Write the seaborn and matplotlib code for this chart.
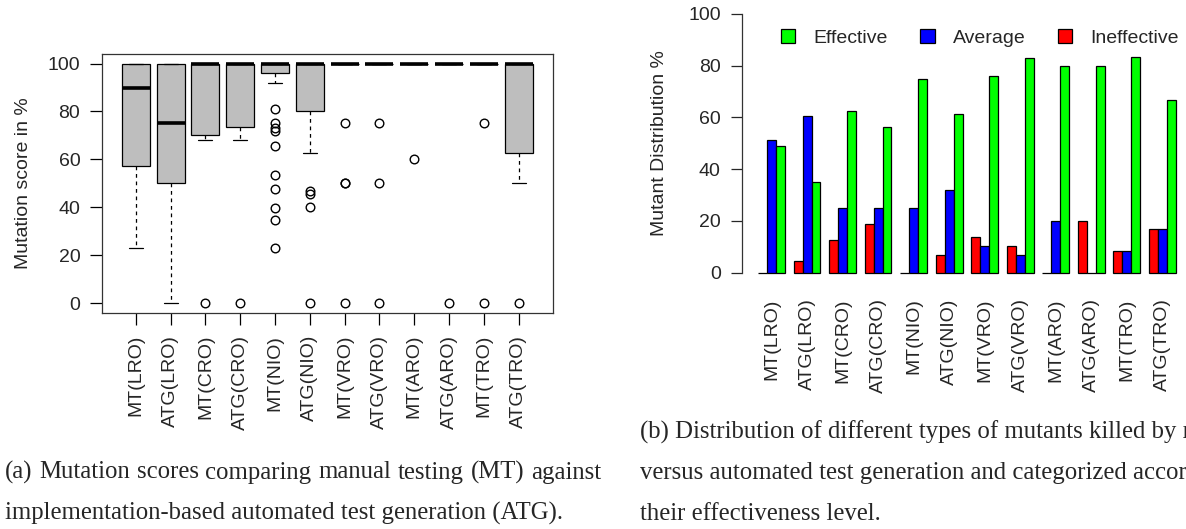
import matplotlib
matplotlib.use("Agg")
import pandas as pd
import seaborn as sns
from matplotlib import pyplot as plt
from matplotlib.patches import Patch

# ---- data -------------------------------------------------------------
labels = ["MT(LRO)", "ATG(LRO)", "MT(CRO)", "ATG(CRO)", "MT(NIO)", "ATG(NIO)",
          "MT(VRO)", "ATG(VRO)", "MT(ARO)", "ATG(ARO)", "MT(TRO)", "ATG(TRO)"]

# mutation score (%) per subject, one list per group
mt_lro = [23.1, 57.1, 90, 100, 100]
atg_lro = [0, 50, 75, 100, 100]
mt_cro = [0, 67.9, 70, 100, 100, 100, 100, 100, 100]
atg_cro = [0, 67.9, 73.7, 100, 100, 100, 100, 100, 100]
mt_nio = [23.1, 34.6, 39.6, 47.6, 53.5, 65.6, 71.8, 73.3, 75.1, 80.9, 91.9, 96] + [100] * 33
atg_nio = [0, 40, 45.5, 46.7, 62.5, 80] + [100] * 15
mt_vro = [0, 50, 50, 75] + [100] * 13
atg_vro = [0, 50, 75] + [100] * 10
mt_aro = [60, 100, 100, 100, 100]
atg_aro = [0, 100, 100, 100, 100]
mt_tro = [0, 75] + [100] * 7
atg_tro = [0, 50, 62.5, 100, 100, 100, 100, 100, 100]

scores = [mt_lro, atg_lro, mt_cro, atg_cro, mt_nio, atg_nio,
          mt_vro, atg_vro, mt_aro, atg_aro, mt_tro, atg_tro]

# mutant distribution (%) per group
ineffective = [0, 4.5, 12.5, 18.75, 0, 6.8, 13.8, 10.3, 0, 20, 8.3, 16.7]
average = [51.2, 60.6, 25, 25, 25, 31.8, 10.3, 6.9, 20, 0, 8.3, 16.7]
effective = [48.8, 34.9, 62.5, 56.25, 75, 61.4, 75.9, 82.8, 80, 80, 83.3, 66.7]

caption_a = ["(a) Mutation scores comparing manual testing (MT) against",
             "implementation-based automated test generation (ATG)."]
caption_b = ["(b) Distribution of different types of mutants killed by manual testing",
             "versus automated test generation and categorized according to",
             "their effectiveness level."]

# ---- style ------------------------------------------------------------
sns.set_style("ticks")
plt.rcParams["font.family"] = ["Liberation Sans", "DejaVu Sans"]
plt.rcParams["axes.linewidth"] = 0.9
plt.rcParams["xtick.major.width"] = 0.9
plt.rcParams["ytick.major.width"] = 0.9

W, H = 1186, 529
fig = plt.figure(figsize=(W / 100, H / 100), dpi=100)

# ---- (a) boxplot ------------------------------------------------------
box_df = pd.DataFrame({
    "group": [lab for lab, vals in zip(labels, scores) for _ in vals],
    "score": [v for vals in scores for v in vals],
})

ax1 = fig.add_axes([101.7 / W, 1 - 312.7 / H, 451 / W, 258.7 / H])
sns.boxplot(data=box_df, x="group", y="score", order=labels, ax=ax1,
            color="#BEBEBE", linecolor="black", linewidth=0.9, width=0.8,
            saturation=1, fliersize=6.2,
            whiskerprops={"linestyle": (0, (3, 3))},
            medianprops={"linewidth": 2.6},
            flierprops={"marker": "o", "markerfacecolor": "none",
                        "markeredgecolor": "black", "markeredgewidth": 1.0})
ax1.set_xlim(-0.98, 11.98)
ax1.set_ylim(-4, 104)
ax1.set_yticks([0, 20, 40, 60, 80, 100])
ax1.set_xticks(range(len(labels)))
ax1.set_xticklabels(labels, rotation=90)
ax1.tick_params(axis="both", length=8.4, labelsize=14, color="black")
ax1.tick_params(axis="x", pad=7.5)
ax1.tick_params(axis="y", pad=7)
ax1.set_xlabel("")
ax1.set_ylabel("")
for sp in ax1.spines.values():
    sp.set_visible(True)
    sp.set_color("#333333")
fig.text(24 / W, 1 - 183 / H, "Mutation score in %", rotation=90,
         ha="center", va="center", fontsize=14)

# ---- (b) grouped bars -------------------------------------------------
kinds = ["Ineffective", "Average", "Effective"]
colors = {"Ineffective": "#FF0000", "Average": "#0000FF", "Effective": "#00FF00"}
bar_df = pd.DataFrame({
    "group": labels * 3,
    "kind": [k for k in kinds for _ in labels],
    "value": ineffective + average + effective,
})

ax2 = fig.add_axes([741.6 / W, 1 - 283.05 / H, (W - 741.6) / W, 279.4 / H])
sns.barplot(data=bar_df, x="group", y="value", hue="kind", order=labels,
            hue_order=kinds, palette=colors, width=0.75, saturation=1,
            edgecolor="black", linewidth=0.9, errorbar=None, legend=False, ax=ax2)
ax2.set_xlim(-0.845, 11.667)
ax2.set_ylim(-4, 104)
ax2.set_yticks([0, 20, 40, 60, 80, 100])
ax2.set_xticks(range(len(labels)))
ax2.set_xticklabels(labels, rotation=90)
ax2.tick_params(axis="x", length=0, pad=11, labelsize=14)
ax2.tick_params(axis="y", length=8, pad=7, labelsize=14)
ax2.set_xlabel("")
ax2.set_ylabel("")
for side in ["top", "right", "bottom"]:
    ax2.spines[side].set_visible(False)
ax2.spines["left"].set_bounds(0, 100)
ax2.spines["left"].set_color("#333333")
fig.text(660 / W, 1 - 143.3 / H, "Mutant Distribution %", rotation=90,
         ha="center", va="center", fontsize=14)

handles = [Patch(facecolor=colors[k], edgecolor="black", linewidth=0.9)
           for k in ["Effective", "Average", "Ineffective"]]
fig.legend(handles, ["Effective", "Average", "Ineffective"], ncol=3,
           loc="center left", bbox_to_anchor=(780.7 / W, 1 - 38 / H),
           frameon=False, fontsize=14, borderpad=0, borderaxespad=0,
           handlelength=0.74, handleheight=0.74, handletextpad=0.93,
           columnspacing=1.68)

# ---- captions ---------------------------------------------------------
renderer = fig.canvas.get_renderer()
cap_kw = dict(fontsize=17.8, family=["Liberation Serif", "DejaVu Serif"], va="baseline")


def justified_line(x0, base, line, width):
    # place words one by one so the line fills the column width
    words = line.split(" ")
    txts = [fig.text(0, 1 - base / H, w, **cap_kw) for w in words]
    widths = [t.get_window_extent(renderer).width for t in txts]
    gap = (width - sum(widths)) / (len(words) - 1)
    x = x0
    for t, w in zip(txts, widths):
        t.set_x(x / W)
        x += w + gap


justified_line(5, 478.5, caption_a[0], 596)
fig.text(5 / W, 1 - 519.5 / H, caption_a[1], **cap_kw)
fig.text(640 / W, 1 - 438.5 / H, caption_b[0], **cap_kw)
fig.text(640 / W, 1 - 478.5 / H, caption_b[1], **cap_kw)
fig.text(640 / W, 1 - 519.5 / H, caption_b[2], **cap_kw)

fig.savefig("out.png", dpi=100)
